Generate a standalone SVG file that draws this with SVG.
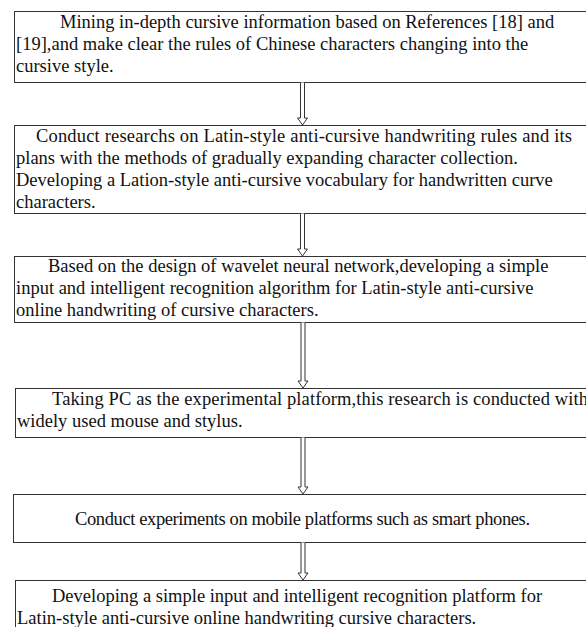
<svg xmlns="http://www.w3.org/2000/svg" width="586" height="627" viewBox="0 0 586 627">
<style>
.box{fill:#fff;stroke:#333;stroke-width:1}
.t{font-family:"Liberation Serif","Times New Roman",serif;font-size:18.5px;fill:#111}
.arr{fill:#fff;stroke:#333;stroke-width:1}
</style>
<rect width="586" height="627" fill="#fff"/>
<g id="n1">
<rect class="box" x="14.5" y="11.5" width="580" height="71"/>
<text class="t" x="60" y="28">Mining in-depth cursive information based on References [18] and</text>
<text class="t" x="16" y="50">[19],and make clear the rules of Chinese characters changing into the</text>
<text class="t" x="16" y="72">cursive style.</text>
</g>
<g id="n2">
<rect class="box" x="14.5" y="125.5" width="580" height="88"/>
<text class="t" x="36" y="142" textLength="536" lengthAdjust="spacing">Conduct researchs on Latin-style anti-cursive handwriting rules and its</text>
<text class="t" x="16" y="164">plans with the methods of gradually expanding character collection.</text>
<text class="t" x="16" y="186">Developing a Lation-style anti-cursive vocabulary for handwritten curve</text>
<text class="t" x="16" y="208">characters.</text>
</g>
<g id="n3">
<rect class="box" x="14.5" y="256.5" width="580" height="66"/>
<text class="t" x="48" y="272">Based on the design of wavelet neural network,developing a simple</text>
<text class="t" x="16" y="294">input and intelligent recognition algorithm for Latin-style anti-cursive</text>
<text class="t" x="16" y="316">online handwriting of cursive characters.</text>
</g>
<g id="n4">
<rect class="box" x="15.5" y="388.5" width="580" height="49"/>
<text class="t" x="52" y="405" textLength="536" lengthAdjust="spacing">Taking PC as the experimental platform,this research is conducted with</text>
<text class="t" x="17" y="427">widely used mouse and stylus.</text>
</g>
<g id="n5">
<rect class="box" x="13.5" y="494.5" width="580" height="48"/>
<text class="t" x="75" y="525" textLength="455" lengthAdjust="spacing">Conduct experiments on mobile platforms such as smart phones.</text>
</g>
<g id="n6">
<rect class="box" x="15.5" y="580.5" width="580" height="60"/>
<text class="t" x="52" y="602">Developing a simple input and intelligent recognition platform for</text>
<text class="t" x="17" y="624">Latin-style anti-cursive online handwriting cursive characters.</text>
</g>
<g id="connectors">
<path class="arr" d="M300.5 82.5 V118 H297.5 L302.5 125 L307.5 118 H304.5 V82.5"/>
<path class="arr" d="M300.5 213.5 V249 H297.5 L302.5 256 L307.5 249 H304.5 V213.5"/>
<path class="arr" d="M301 322.5 V381 H298 L303 388 L308 381 H305 V322.5"/>
<path class="arr" d="M301 437.5 V487 H298 L303 494 L308 487 H305 V437.5"/>
<path class="arr" d="M301 542.5 V573 H298 L303 580 L308 573 H305 V542.5"/>
</g>
</svg>
